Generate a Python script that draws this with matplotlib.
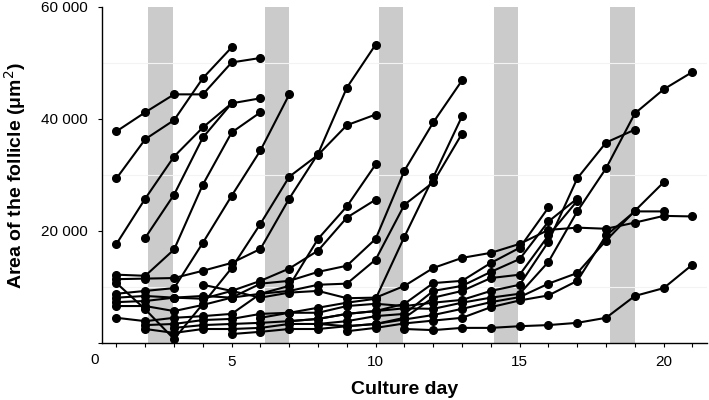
import numpy as np
import matplotlib
matplotlib.use("Agg")
import matplotlib.pyplot as plt
from matplotlib.ticker import MultipleLocator, FuncFormatter

plt.rcParams['font.family'] = ['Liberation Sans', 'DejaVu Sans']

# culture days where the medium was exchanged (grey bands)
band_start = [2.1, 6.15, 10.1, 14.1, 18.15]
band_end = [2.95, 7.0, 10.95, 14.95, 19.0]

# follicle area per culture day: (first day, values)
s01 = (1, [37800, 41200, 44400, 44400, 50100, 50900])
s02 = (1, [29400, 36400, 39800, 47300, 52800])
s03 = (1, [17700, 25800, 33300, 38500, 42800, 43700])
s04 = (2, [18800, 26500, 36700, 42800])
s05 = (1, [12200, 12000, 16700, 28300, 37600, 41200])
s06 = (1, [8800, 9300, 9800, 17900, 26300, 34400, 44400])
s07 = (1, [10700, 6000, 700, 7000, 13400, 21300, 29700, 33600, 38900, 40800])
s08 = (1, [11400, 11500, 11600, 12900, 14300, 16800, 25800, 33800, 45600, 53300])
s09 = (1, [8100, 8400, 8100, 8400, 8100, 8800, 10200, 18600, 24400, 31900])
s10 = (1, [7300, 7500, 8100, 7900, 9300, 11100, 13300, 16500, 22400, 25600])
s11 = (1, [6600, 6600, 5700, 6800, 8100, 10600, 11100, 12700, 13800, 18600, 30800, 39400, 46900])
s12 = (1, [4500, 3900, 4500, 4800, 5200, 8800, 9300, 10400, 10600, 14900, 24700, 28700, 37400])
s13 = (2, [3200, 3400, 4100, 4300, 5200, 5400, 6300, 7200, 7900, 19000, 29600, 40500])
s14 = (3, [2700, 3200, 3400, 3600, 3900, 4300, 5200, 5700, 7000, 10700, 11100, 14300, 17000, 24200])
s15 = (2, [2500, 1800, 2500, 2500, 2700, 3400, 3400, 3900, 4800, 5200, 9300, 10200, 12700, 15000, 21700, 25800])
s16 = (5, [1600, 2000, 2500, 2500, 3000, 3400, 4500, 8100, 9300, 11600, 12200, 19200, 25400])
s17 = (4, [10400, 9300, 8100, 9000, 9300, 8000, 8100, 10200, 13400, 15200, 16100, 17700, 20200, 20600,
           20400, 21500, 22700, 22600])
s18 = (6, [4500, 5400, 5400, 6600, 7000, 6600, 7200, 7700, 9300, 10400, 18100, 29400, 35800, 38100])
s19 = (7, [3900, 4300, 5200, 5700, 6200, 6100, 7200, 8100, 8800, 14500, 23500, 31200, 41000, 45300, 48400])
s20 = (8, [3400, 3000, 3400, 4200, 5000, 6100, 7300, 8200, 10600, 12500, 18300, 23600, 28700])
s21 = (9, [2100, 2700, 3500, 4000, 4500, 6400, 7600, 8500, 11100, 19200, 23500, 23500])
s22 = (11, [2500, 2300, 2700, 2700, 3000, 3200, 3600, 4500, 8400, 9800, 14000])

follicles = [s01, s02, s03, s04, s05, s06, s07, s08, s09, s10, s11,
             s12, s13, s14, s15, s16, s17, s18, s19, s20, s21, s22]

fig = plt.figure(figsize=(7.09, 4.0), dpi=100)
ax = fig.add_axes([0.144, 0.1425, 0.853, 0.84])

for a, b in zip(band_start, band_end):
    ax.axvspan(a, b, color='#cbcbcb', lw=0, zorder=0)

for y in [10000, 30000, 50000]:
    ax.axhline(y, color='#f3f3f3', lw=0.8, zorder=0)

for first, vals in follicles:
    d = np.arange(first, first + len(vals))
    ax.plot(d, vals, color='black', lw=1.5, marker='o', ms=5.5, zorder=3)

ax.set_xlim(0.5, 21.5)
ax.set_ylim(0, 60000)
ax.xaxis.set_major_locator(MultipleLocator(5))
ax.xaxis.set_minor_locator(MultipleLocator(1))
ax.set_yticks([0, 20000, 40000, 60000])
ax.yaxis.set_major_formatter(FuncFormatter(lambda v, p: '' if v == 0 else '{:,.0f}'.format(v).replace(',', ' ')))
ax.xaxis.set_major_formatter(FuncFormatter(lambda v, p: '%d' % v))

for s in ['top', 'right']:
    ax.spines[s].set_visible(False)
for s in ['left', 'bottom']:
    ax.spines[s].set_linewidth(1.0)
ax.tick_params(axis='both', which='both', direction='out', length=3, width=0.8,
               labelsize=11, colors='black')
ax.tick_params(axis='y', pad=7)
ax.tick_params(axis='x', pad=6)

fig.text(95 / 709, 1 - 360 / 400, '0', fontsize=11, ha='center', va='center')
ax.set_xlabel('Culture day', fontsize=14, fontweight='bold', labelpad=8)
ax.set_ylabel('Area of the follicle (μm$^2$)', fontsize=14, fontweight='bold', labelpad=10)

fig.savefig('out.png', dpi=100)
